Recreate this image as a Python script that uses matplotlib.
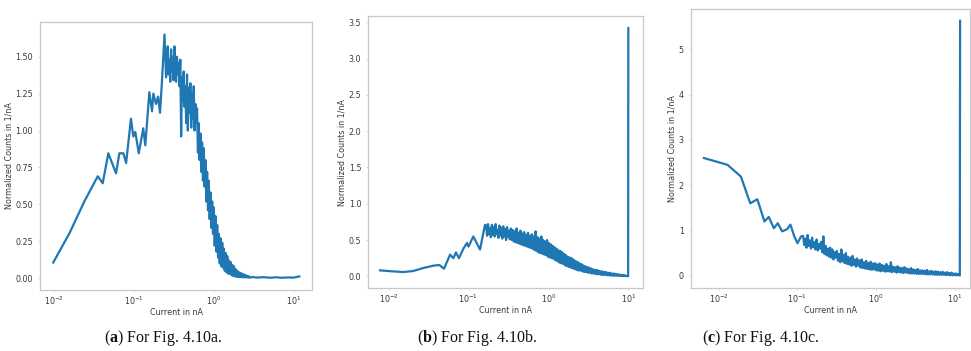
"""Normalized current histograms for Fig. 4.10a-c, three log-x panels with captions."""

import matplotlib

matplotlib.use("Agg")

import matplotlib.pyplot as plt
import numpy as np

LINE_COLOR = "#1f77b4"
SPINE_COLOR = "#c8c8c8"
TEXT_COLOR = "#3a3a3a"
SMALL = 5.8

# ---- panel (a) -----------------------------------------------------------
A_SPARSE_X = [0.0097, 0.0155, 0.0238, 0.035, 0.0404, 0.0475, 0.0593, 0.0653,
              0.0733, 0.0794, 0.0912, 0.0977, 0.1035, 0.1143, 0.130, 0.138,
              0.155, 0.1675, 0.174, 0.188, 0.1995, 0.211, 0.224, 0.240]
A_SPARSE_Y = [0.106, 0.305, 0.52, 0.69, 0.643, 0.846, 0.71, 0.846,
              0.846, 0.78, 1.08, 0.96, 0.99, 0.846, 1.015, 0.90,
              1.26, 1.13, 1.25, 1.18, 1.23, 1.12, 1.35, 1.65]
A_DENSE_RANGE = (0.245, 2.82)
A_DENSE_Y = [
    1.52, 1.36, 1.45, 1.57, 1.38, 1.48, 1.33, 1.55, 1.40, 1.50, 1.34, 1.57, 1.42,
    1.33, 1.50, 1.38, 1.46, 1.30, 1.48,
    0.96, 1.36, 1.20, 1.40, 1.16, 1.30, 1.05, 1.38, 1.00, 1.29, 1.12, 1.32, 1.02,
    1.25, 1.08, 1.30, 1.00, 1.18, 1.05,
    1.15, 0.85, 1.05, 0.80, 0.98, 0.72, 0.92, 0.66, 0.88, 0.62,
    0.80, 0.52, 0.72, 0.46, 0.66, 0.40, 0.58, 0.34, 0.52, 0.30,
    0.48, 0.22, 0.42, 0.18, 0.36, 0.14, 0.30, 0.10, 0.27, 0.08,
    0.24, 0.07, 0.20, 0.05, 0.17, 0.04, 0.15, 0.03, 0.12, 0.03,
    0.11, 0.02, 0.09, 0.015, 0.08, 0.012, 0.06, 0.01, 0.05, 0.008, 0.04, 0.008,
    0.035, 0.006, 0.03, 0.006, 0.025, 0.005, 0.02, 0.005, 0.015, 0.004, 0.012, 0.004,
]
A_TAIL_X = [3.0, 3.5, 4.2, 5.0, 6.0, 7.0, 8.5, 10.0, 11.7]
A_TAIL_Y = [0.008, 0.004, 0.007, 0.003, 0.006, 0.003, 0.005, 0.004, 0.012]

# ---- panel (b) -----------------------------------------------------------
B_SPARSE_X = [0.00783, 0.01096, 0.0153, 0.0204, 0.0272, 0.0363, 0.0432, 0.0494,
              0.0589, 0.0646, 0.0698, 0.0759, 0.0861, 0.0955, 0.1, 0.1148,
              0.1393, 0.1607]
B_SPARSE_Y = [0.083, 0.07, 0.06, 0.074, 0.115, 0.147, 0.157, 0.106,
              0.30, 0.25, 0.33, 0.25, 0.38, 0.46, 0.41, 0.55,
              0.37, 0.71]
B_DENSE_RANGE = (0.166, 9.33)
B_DENSE_Y = [
    0.70, 0.56, 0.72, 0.58, 0.66, 0.54, 0.71, 0.57, 0.68, 0.55, 0.72, 0.58, 0.64,
    0.53, 0.70, 0.56, 0.67, 0.52, 0.69, 0.55, 0.65, 0.50, 0.68, 0.54, 0.63, 0.51, 0.66,
    0.50, 0.64, 0.48, 0.62, 0.47, 0.66, 0.46, 0.60, 0.45, 0.63, 0.44, 0.59, 0.43,
    0.61, 0.42, 0.57, 0.41, 0.60, 0.40, 0.56, 0.39,
    0.58, 0.38, 0.55, 0.36, 0.62, 0.35, 0.54, 0.33, 0.52, 0.32, 0.55, 0.31, 0.50,
    0.30, 0.48, 0.29, 0.50, 0.27, 0.46, 0.26, 0.44,
    0.25, 0.42, 0.24, 0.40, 0.22, 0.38, 0.21, 0.36, 0.19, 0.35, 0.18, 0.33, 0.17,
    0.31, 0.15, 0.29, 0.14, 0.27, 0.13, 0.26, 0.12,
    0.25, 0.11, 0.23, 0.10, 0.21, 0.09, 0.20, 0.08, 0.18, 0.08, 0.17, 0.07, 0.15,
    0.06, 0.14, 0.06, 0.13, 0.05, 0.12, 0.05, 0.11,
    0.04, 0.10, 0.04, 0.09, 0.03, 0.09, 0.03, 0.08, 0.03, 0.07, 0.02, 0.07, 0.02,
    0.06, 0.02, 0.06, 0.015, 0.05, 0.015, 0.05, 0.01, 0.04, 0.01, 0.04, 0.01,
    0.035, 0.008, 0.03, 0.008, 0.025, 0.006, 0.02, 0.005, 0.02, 0.004, 0.015, 0.004,
]
B_SPIKE_X = [9.9, 9.95]
B_SPIKE_Y = [0.003, 3.42]

# ---- panel (c) -----------------------------------------------------------
C_SPARSE_X = [0.00646, 0.01288, 0.0191, 0.0251, 0.0309, 0.038, 0.0432, 0.0501,
              0.0562, 0.0638, 0.0741, 0.0813, 0.0912, 0.1, 0.1114]
C_SPARSE_Y = [2.60, 2.45, 2.19, 1.60, 1.69, 1.20, 1.30, 1.05,
              1.16, 0.98, 1.03, 1.13, 0.87, 0.72, 0.87]
C_DENSE_RANGE = (0.118, 11.5)
C_DENSE_Y = [
    0.88, 0.68, 0.82, 0.62, 0.90, 0.66, 0.78, 0.60, 0.84, 0.63, 0.74, 0.58, 0.80,
    0.56, 0.70, 0.60,
    0.75, 0.52, 0.87, 0.48, 0.66, 0.45, 0.60, 0.42, 0.62, 0.40,
    0.58, 0.36, 0.52, 0.40, 0.55, 0.33, 0.48, 0.30, 0.58, 0.32,
    0.46, 0.28, 0.50, 0.26, 0.42, 0.25, 0.40, 0.22, 0.44, 0.24, 0.36, 0.20, 0.38, 0.22,
    0.34, 0.18, 0.36, 0.17, 0.30, 0.16, 0.33, 0.15, 0.28, 0.14, 0.31, 0.13, 0.27, 0.14,
    0.28, 0.12, 0.25, 0.11, 0.27, 0.10, 0.24, 0.11, 0.22, 0.09, 0.26, 0.10, 0.21, 0.09,
    0.30, 0.08, 0.20, 0.09, 0.19, 0.07, 0.21, 0.08, 0.18, 0.07, 0.17, 0.06, 0.19, 0.07,
    0.16, 0.06, 0.15, 0.05, 0.17, 0.05, 0.14, 0.05, 0.13, 0.04, 0.15, 0.04, 0.12, 0.04,
    0.12, 0.04, 0.11, 0.03, 0.13, 0.03, 0.10, 0.03, 0.11, 0.03, 0.09, 0.02, 0.10, 0.02,
    0.09, 0.02, 0.08, 0.02, 0.09, 0.02, 0.07, 0.015, 0.08, 0.015, 0.06, 0.01, 0.07,
    0.01, 0.05, 0.01, 0.05, 0.008, 0.04, 0.01,
]
C_SPIKE_X = [11.6, 11.7]
C_SPIKE_Y = [0.005, 5.63]

CAPTIONS = ["a", "b", "c"]


def build_series(sparse_x, sparse_y, dense_range, dense_y, end_x, end_y):
    dense_x = np.geomspace(dense_range[0], dense_range[1], len(dense_y))
    x = np.concatenate([sparse_x, dense_x, end_x])
    y = np.concatenate([sparse_y, dense_y, end_y])
    return x, y


def draw_panel(ax, x, y, xlim, ylim):
    ax.plot(x, y, color=LINE_COLOR, linewidth=1.6)
    ax.set_xscale("log")
    ax.set_xlim(*xlim)
    ax.set_ylim(*ylim)
    ax.set_xlabel("Current in nA", fontsize=SMALL, color=TEXT_COLOR, labelpad=0.8)
    ax.set_ylabel("Normalized Counts in 1/nA", fontsize=SMALL, color=TEXT_COLOR, labelpad=1.5)
    ax.tick_params(axis="both", which="major", labelsize=SMALL, labelcolor=TEXT_COLOR,
                   length=1.5, width=0.5, color=SPINE_COLOR)
    ax.tick_params(axis="x", which="major", pad=1.5)
    ax.tick_params(axis="y", which="major", pad=3.5)
    ax.tick_params(which="minor", length=1.0, width=0.4, color=SPINE_COLOR)
    for spine in ax.spines.values():
        spine.set_color(SPINE_COLOR)
        spine.set_linewidth(0.9)


def main() -> None:
    plt.rcParams["mathtext.bf"] = "Liberation Serif:bold"
    plt.rcParams["mathtext.rm"] = "Liberation Serif"

    fig = plt.figure(figsize=(9.71, 3.51), dpi=100)
    ax_a = fig.add_axes([40 / 971, 61 / 351, 272 / 971, 268 / 351])
    ax_b = fig.add_axes([368.3 / 971, 63 / 351, 274.4 / 971, 271.6 / 351])
    ax_c = fig.add_axes([690.7 / 971, 63 / 351, 279 / 971, 279 / 351])

    a_x, a_y = build_series(A_SPARSE_X, A_SPARSE_Y, A_DENSE_RANGE, A_DENSE_Y, A_TAIL_X, A_TAIL_Y)
    b_x, b_y = build_series(B_SPARSE_X, B_SPARSE_Y, B_DENSE_RANGE, B_DENSE_Y, B_SPIKE_X, B_SPIKE_Y)
    c_x, c_y = build_series(C_SPARSE_X, C_SPARSE_Y, C_DENSE_RANGE, C_DENSE_Y, C_SPIKE_X, C_SPIKE_Y)

    draw_panel(ax_a, a_x, a_y, (0.00662, 16.9), (-0.08, 1.735))
    draw_panel(ax_b, b_x, b_y, (0.00559, 15.05), (-0.16, 3.58))
    draw_panel(ax_c, c_x, c_y, (0.00439, 15.5), (-0.27, 5.89))

    for letter, cx in zip(CAPTIONS, [163, 477, 761]):
        fig.text(cx / 971, 1 - 338 / 351, rf"($\mathbf{{{letter}}}$) For Fig. 4.10{letter}.",
                 ha="center", va="center", fontsize=11.5, family="Liberation Serif",
                 color="#111111", math_fontfamily="custom")

    fig.savefig("out.png", dpi=100)
    plt.close(fig)


if __name__ == "__main__":
    main()
